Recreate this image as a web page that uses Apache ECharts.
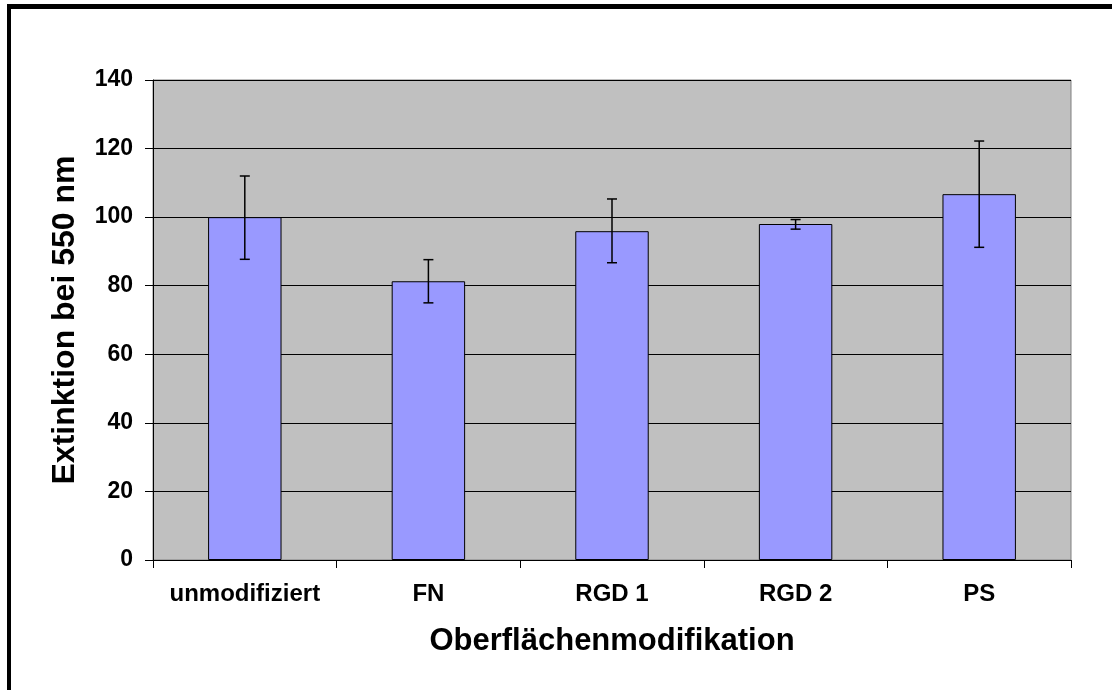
<!DOCTYPE html>
<html>
<head>
<meta charset="utf-8">
<script src="https://cdn.jsdelivr.net/npm/echarts@6/dist/echarts.min.js"></script>
<style>
  html, body { margin: 0; padding: 0; background: #fff; }
  #chart { width: 1112px; height: 690px; }
</style>
</head>
<body>
<div id="chart"></div>
<script>
const categories = ['unmodifiziert', 'FN', 'RGD 1', 'RGD 2', 'PS'];
const means = [100, 81.3, 95.9, 98.0, 106.7];
const errLow = [87.7, 75.0, 86.7, 96.5, 91.2];
const errHigh = [112.0, 87.6, 105.3, 99.3, 122.2];

const font = 'Liberation Sans, Arial, sans-serif';

const chart = echarts.init(document.getElementById('chart'));

chart.setOption({
  animation: false,
  graphic: [
    { type: 'rect', shape: { x: 7, y: 4, width: 1105, height: 5 }, style: { fill: '#000' } },
    { type: 'rect', shape: { x: 7, y: 4, width: 4, height: 686 }, style: { fill: '#000' } }
  ],
  grid: {
    left: 153, right: 41, top: 80, bottom: 130,
    show: true,
    backgroundColor: '#C0C0C0',
    borderColor: '#808080',
    borderWidth: 1
  },
  xAxis: {
    type: 'category',
    data: categories,
    name: 'Oberflächenmodifikation',
    nameLocation: 'middle',
    nameGap: 66,
    nameTextStyle: { fontFamily: font, fontWeight: 'bold', fontSize: 31, color: '#000' },
    axisLine: { lineStyle: { color: '#000', width: 1 } },
    axisTick: { show: true, interval: 0, length: 8, lineStyle: { color: '#000' } },
    axisLabel: { interval: 0, fontFamily: font, fontWeight: 'bold', fontSize: 24, color: '#000', margin: 22 }
  },
  yAxis: {
    type: 'value',
    min: 0, max: 140, interval: 20,
    name: 'Extinktion bei 550 nm',
    nameLocation: 'middle',
    nameGap: 72,
    nameTextStyle: { fontFamily: font, fontWeight: 'bold', fontSize: 32, color: '#000' },
    axisLine: { show: true, lineStyle: { color: '#000', width: 1 } },
    axisTick: { show: true, length: 8, lineStyle: { color: '#000' } },
    axisLabel: { fontFamily: font, fontWeight: 'bold', fontSize: 23, color: '#000', margin: 20 },
    splitLine: { lineStyle: { color: '#000', width: 1 } }
  },
  series: [
    {
      type: 'bar',
      data: means,
      barWidth: '40%',
      itemStyle: { color: '#9999FF', borderColor: '#000', borderWidth: 1 }
    },
    {
      type: 'custom',
      data: categories.map((c, i) => [i, errLow[i], errHigh[i]]),
      renderItem: (params, api) => {
        const lo = api.coord([api.value(0), api.value(1)]);
        const hi = api.coord([api.value(0), api.value(2)]);
        const w = 5;
        const style = { stroke: '#000', lineWidth: 1.5 };
        return {
          type: 'group',
          children: [
            { type: 'line', shape: { x1: hi[0], y1: hi[1], x2: lo[0], y2: lo[1] }, style },
            { type: 'line', shape: { x1: hi[0] - w, y1: hi[1], x2: hi[0] + w, y2: hi[1] }, style },
            { type: 'line', shape: { x1: lo[0] - w, y1: lo[1], x2: lo[0] + w, y2: lo[1] }, style }
          ]
        };
      },
      z: 10
    }
  ]
});
</script>
</body>
</html>
